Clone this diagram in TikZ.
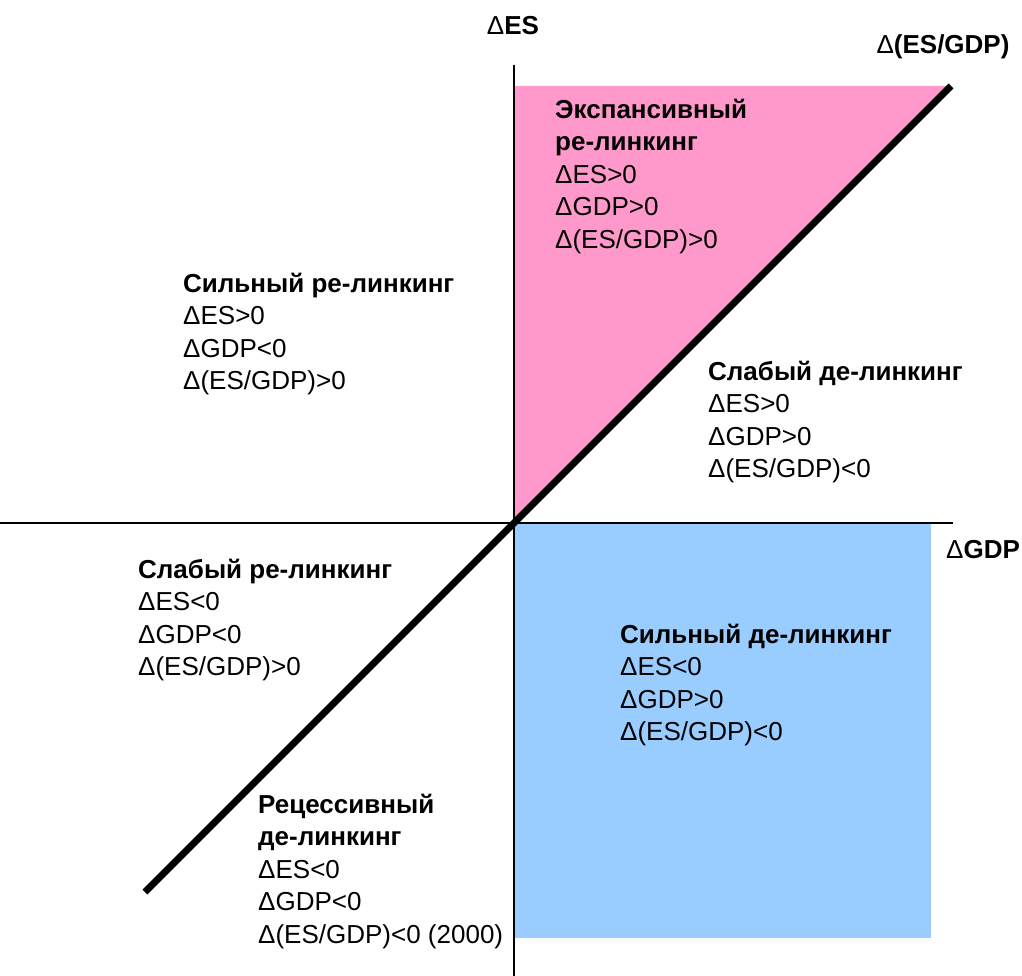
\documentclass[tikz,border=0pt]{standalone}
\usepackage{fontspec}
\setmainfont{Liberation Sans}
\definecolor{pinkfill}{HTML}{FF99CC}
\definecolor{bluefill}{HTML}{99CCFF}
\begin{document}
\begin{tikzpicture}[x=1pt,y=-1pt,
  lbl/.style={anchor=north west,inner sep=0pt,align=left,font=\fontsize{26}{32.4}\selectfont},
  axlbl/.style={inner sep=0pt,font=\fontsize{26}{32.4}\selectfont\bfseries},
  axis/.style={line width=2.5pt},
  diag/.style={line width=7pt}]
\useasboundingbox (0,0) rectangle (1022,976);
% coordinates
\coordinate (O) at (514,523);
\coordinate (vtop) at (514,65);
\coordinate (vbot) at (514,976);
\coordinate (hleft) at (0,523);
\coordinate (hright) at (953,523);
\coordinate (dlow) at (145,892);
\coordinate (dhigh) at (951,86);
% regions
\fill[pinkfill] (O) -- (514,86) -- (dhigh) -- cycle;
\fill[bluefill] (514,523) rectangle (931,938);
% axes
\draw[axis] (vtop) -- (vbot);
\draw[axis] (hleft) -- (hright);
\draw[diag] (dlow) -- (dhigh);
% axis labels
\node[axlbl] (les) at (513,26) {{\mdseries Δ}ES};
\node[axlbl] (lesgdp) at (943,47) {{\mdseries Δ}(ES/GDP)};
\node[axlbl] (lgdp) at (983,550) {{\mdseries Δ}GDP};
% region texts
\node[lbl] (t1) at (555,99) {\textbf{Экспансивный}\\\textbf{ре-линкинг}\\ΔES>0\\ΔGDP>0\\Δ(ES/GDP)>0};
\node[lbl] (t2) at (183,273) {\textbf{Сильный ре-линкинг}\\ΔES>0\\ΔGDP<0\\Δ(ES/GDP)>0};
\node[lbl] (t3) at (708,361) {\textbf{Слабый де-линкинг}\\ΔES>0\\ΔGDP>0\\Δ(ES/GDP)<0};
\node[lbl] (t4) at (138,559) {\textbf{Слабый ре-линкинг}\\ΔES<0\\ΔGDP<0\\Δ(ES/GDP)>0};
\node[lbl] (t5) at (620,624) {\textbf{Сильный де-линкинг}\\ΔES<0\\ΔGDP>0\\Δ(ES/GDP)<0};
\node[lbl] (t6) at (258,794) {\textbf{Рецессивный}\\\textbf{де-линкинг}\\ΔES<0\\ΔGDP<0\\Δ(ES/GDP)<0 (2000)};
\end{tikzpicture}
\end{document}
